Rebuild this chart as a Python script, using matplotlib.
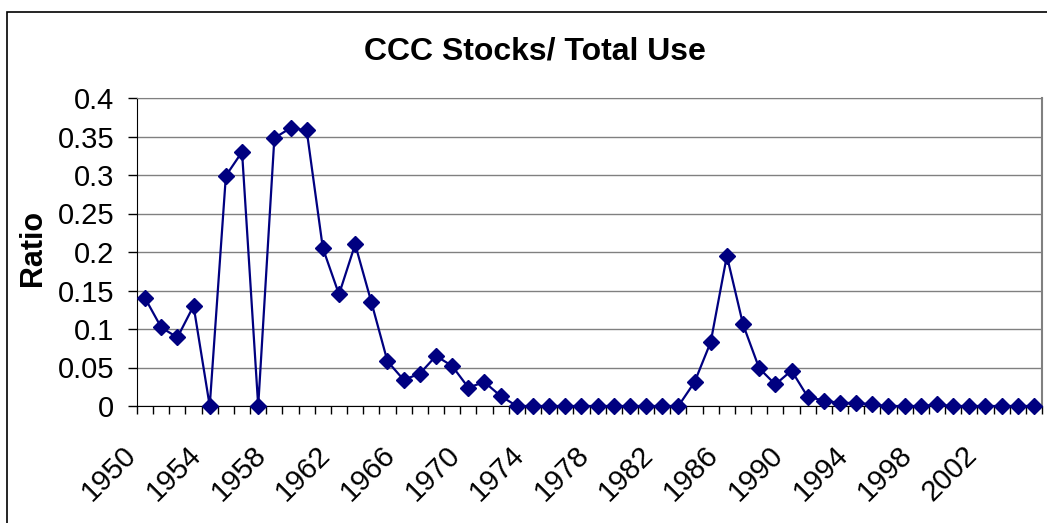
import matplotlib
matplotlib.use('Agg')
import matplotlib.pyplot as plt
from matplotlib.patches import Rectangle
from matplotlib.transforms import ScaledTranslation

# 연도 (1950 ~ 2005)
years = list(range(1950, 2006))

# CCC 재고 / 총 사용량 비율
ratio = [0.140, 0.102, 0.089, 0.130, 0.0, 0.299, 0.330, 0.0, 0.348, 0.361,
         0.358, 0.205, 0.145, 0.210, 0.135, 0.058, 0.034, 0.042, 0.065, 0.052,
         0.024, 0.031, 0.013, 0.0,
         0.0, 0.0, 0.0, 0.0, 0.0, 0.0, 0.0, 0.0, 0.0, 0.0,
         0.031, 0.083, 0.195, 0.106, 0.049, 0.028, 0.046, 0.012, 0.007, 0.004,
         0.004, 0.002,
         0.0, 0.0, 0.0, 0.002,
         0.0, 0.0, 0.0, 0.0, 0.0, 0.0]

y_ticks = [0, 0.05, 0.1, 0.15, 0.2, 0.25, 0.3, 0.35, 0.4]
y_tick_labels = ['0', '0.05', '0.1', '0.15', '0.2', '0.25', '0.3', '0.35', '0.4']
x_label_years = [1950, 1954, 1958, 1962, 1966, 1970, 1974, 1978, 1982, 1986,
                 1990, 1994, 1998, 2002]

plt.rcParams['font.family'] = ['Liberation Sans', 'DejaVu Sans']

fig = plt.figure(figsize=(10.47, 5.23), dpi=100)
ax = fig.add_axes([137 / 1047, 1 - 406 / 523, 905 / 1047, 308 / 523])

# 바깥 차트 테두리
fig.patches.append(Rectangle((7 / 1047, -0.05), 1.2, 1 - 12 / 523 + 0.05,
                             transform=fig.transFigure, fill=False,
                             edgecolor='black', linewidth=1.2))

x = list(range(len(years)))
ax.plot(x, ratio, color='#000080', linewidth=1.6, marker='D', markersize=8,
        markerfacecolor='#000080', markeredgecolor='#000080', clip_on=False, zorder=3)

ax.set_xlim(-0.5, len(years) - 0.5)
ax.set_ylim(0, 0.4)

ax.set_yticks(y_ticks)
ax.set_yticklabels(y_tick_labels, fontsize=21)
ax.tick_params(axis='y', direction='out', length=6.5, width=1, pad=10, color='black')

# 눈금은 카테고리 경계, 라벨은 카테고리 중앙
ax.set_xticks([v - 0.5 for v in range(len(years) + 1)], minor=True)
ax.set_xticks([years.index(yr) for yr in x_label_years])
ax.set_xticklabels([str(yr) for yr in x_label_years], fontsize=21, rotation=45,
                   ha='right', va='top')
ax.tick_params(axis='x', which='major', length=0, pad=25)
ax.tick_params(axis='x', which='minor', direction='out', length=5.8, width=1, color='black')
offset = ScaledTranslation(-0.03, 0, fig.dpi_scale_trans)
for lbl in ax.get_xticklabels():
    lbl.set_transform(lbl.get_transform() + offset)

ax.grid(axis='y', color='#808080', linewidth=1)
ax.set_axisbelow(True)
ax.spines['left'].set_color('black')
ax.spines['bottom'].set_color('black')
ax.spines['top'].set_color('#808080')
ax.spines['right'].set_color('#808080')
ax.spines['right'].set_linewidth(1.5)

fig.text(535 / 1047, 1 - 51 / 523, 'CCC Stocks/ Total Use', ha='center', va='center',
         fontsize=23, fontweight='bold')
fig.text(33 / 1047, 1 - 248 / 523, 'Ratio', ha='center', va='center', rotation=90,
         fontsize=22, fontweight='bold')

fig.savefig('out.png', dpi=100)
